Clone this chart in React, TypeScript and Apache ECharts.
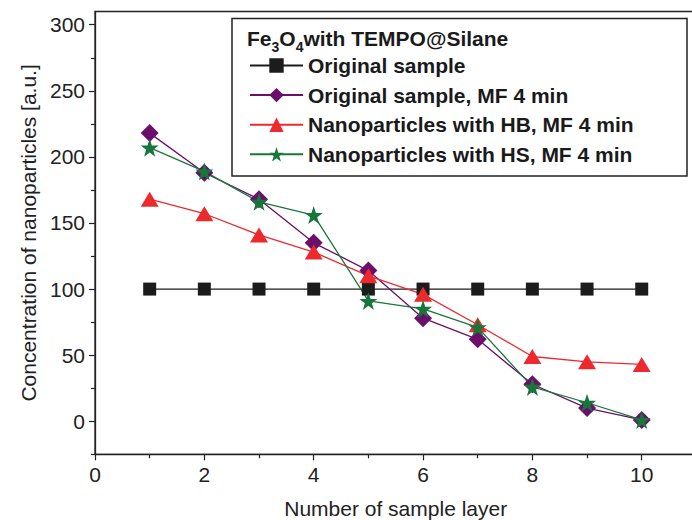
import React, { useEffect, useRef } from "react";
import * as echarts from "echarts";

const layers = [1, 2, 3, 4, 5, 6, 7, 8, 9, 10];
const originalSample = [100, 100, 100, 100, 100, 100, 100, 100, 100, 100];
const originalMF = [218, 188, 168, 135, 114, 78, 62, 28, 10, 1];
const hbMF = [168, 157, 141, 128, 110, 96, 73, 49, 45, 43];
const hsMF = [207, 189, 166, 156, 91, 85, 71, 26, 14, 1];

const seriesNames = [
  "Original sample",
  "Original sample, MF 4 min",
  "Nanoparticles with HB, MF 4 min",
  "Nanoparticles with HS, MF 4 min",
];

const xMajorTicks = [0, 2, 4, 6, 8, 10];
const xMinorTicks = [1, 3, 5, 7, 9];
const yMajorTicks = [0, 50, 100, 150, 200, 250, 300];
const yMinorTicks = [-25, 25, 75, 125, 175, 225, 275];

const FONT = "'Liberation Sans', Arial, Helvetica, sans-serif";
const AXIS = "#222222";
const STAR =
  "path://M50,0 L61.8,35.1 L98.1,35.1 L68.8,56.7 L79.4,91 L50,70 L20.6,91 L31.2,56.7 L1.9,35.1 L38.2,35.1 Z";

export default function App() {
  const ref = useRef<HTMLDivElement>(null);

  useEffect(() => {
    if (!ref.current) return;
    const chart = echarts.init(ref.current, null, { renderer: "svg" });

    const toPairs = (vals: number[]) => layers.map((x, i) => [x, vals[i]]);

    const mkSeries = (
      name: string,
      vals: number[],
      color: string,
      symbol: string,
      symbolSize: number | number[],
      z: number
    ) => ({
      name,
      type: "line",
      xAxisIndex: 0,
      yAxisIndex: 0,
      data: toPairs(vals),
      symbol,
      symbolSize,
      showAllSymbol: true,
      z,
      lineStyle: { color, width: 1.3 },
      itemStyle: { color, borderWidth: 0 },
      emphasis: { disabled: true },
    });

    const option: any = {
      animation: false,
      textStyle: { fontFamily: FONT },
      grid: {
        left: 95,
        top: 11.5,
        width: 601.4,
        height: 442.8,
        containLabel: false,
        outerBoundsMode: "none",
        show: true,
        borderColor: AXIS,
        borderWidth: 1.3,
        backgroundColor: "transparent",
      },
      xAxis: [
        {
          type: "value",
          min: 0,
          max: 11,
          position: "bottom",
          axisLine: { show: true, onZero: false, lineStyle: { color: AXIS, width: 1.3 } },
          axisTick: {
            show: true,
            customValues: xMajorTicks,
            length: 6,
            lineStyle: { color: AXIS, width: 1.2 },
          },
          axisLabel: {
            customValues: xMajorTicks,
            fontSize: 21,
            color: AXIS,
            margin: 10,
            fontFamily: FONT,
          },
          splitLine: { show: false },
          name: "Number of sample layer",
          nameLocation: "middle",
          nameGap: 44,
          nameTextStyle: { fontSize: 21, color: AXIS, fontFamily: FONT },
        },
        {
          type: "value",
          min: 0,
          max: 11,
          position: "bottom",
          axisLine: { show: false, onZero: false },
          axisTick: {
            show: true,
            customValues: xMinorTicks,
            length: 4,
            lineStyle: { color: AXIS, width: 1.2 },
          },
          axisLabel: { show: false },
          splitLine: { show: false },
        },
      ],
      yAxis: [
        {
          type: "value",
          min: -25,
          max: 310,
          position: "left",
          axisLine: { show: true, onZero: false, lineStyle: { color: AXIS, width: 1.3 } },
          axisTick: {
            show: true,
            customValues: yMajorTicks,
            length: 6,
            lineStyle: { color: AXIS, width: 1.2 },
          },
          axisLabel: {
            customValues: yMajorTicks,
            fontSize: 21,
            color: AXIS,
            margin: 10,
            fontFamily: FONT,
          },
          splitLine: { show: false },
          name: "Concentration of nanoparticles [a.u.]",
          nameLocation: "middle",
          nameGap: 56,
          nameTextStyle: { fontSize: 21, color: AXIS, fontFamily: FONT },
        },
        {
          type: "value",
          min: -25,
          max: 310,
          position: "left",
          axisLine: { show: false, onZero: false },
          axisTick: {
            show: true,
            customValues: yMinorTicks,
            length: 4,
            lineStyle: { color: AXIS, width: 1.2 },
          },
          axisLabel: { show: false },
          splitLine: { show: false },
        },
      ],
      legend: {
        orient: "vertical",
        left: 244,
        top: 50,
        itemWidth: 53,
        itemHeight: 18,
        itemGap: 8.6,
        selectedMode: false,
        data: seriesNames,
        textStyle: {
          fontSize: 21,
          fontWeight: "bold",
          color: "#1a1a1a",
          fontFamily: FONT,
        },
        z: 5,
      },
      graphic: [
        {
          type: "rect",
          z: 3,
          shape: { x: 232, y: 18.5, width: 455, height: 157.5 },
          style: { fill: "#ffffff", stroke: AXIS, lineWidth: 1.5 },
        },
        {
          type: "text",
          z: 6,
          x: 247,
          y: 38.5,
          style: {
            text: "{n|Fe}{s|3}{n|O}{s|4}{n|with TEMPO@Silane}",
            verticalAlign: "middle",
            fill: "#1a1a1a",
            rich: {
              n: {
                fontSize: 21,
                fontWeight: "bold",
                fontFamily: FONT,
                lineHeight: 30,
                fill: "#1a1a1a",
              },
              s: {
                fontSize: 14,
                fontWeight: "bold",
                fontFamily: FONT,
                lineHeight: 14,
                verticalAlign: "bottom",
                fill: "#1a1a1a",
              },
            },
          },
        },
      ],
      series: [
        mkSeries(seriesNames[0], originalSample, "#1c1c1c", "rect", 13, 2),
        mkSeries(seriesNames[1], originalMF, "#6b0f6b", "diamond", 18, 2),
        mkSeries(seriesNames[2], hbMF, "#ec2a2e", "triangle", [18, 15], 2),
        mkSeries(seriesNames[3], hsMF, "#17773a", STAR, 18, 2),
      ],
    };

    chart.setOption(option);
    return () => chart.dispose();
  }, []);

  return (
    <div
      ref={ref}
      style={{ position: "absolute", left: 0, top: 0, width: 692, height: 520 }}
    />
  );
}
